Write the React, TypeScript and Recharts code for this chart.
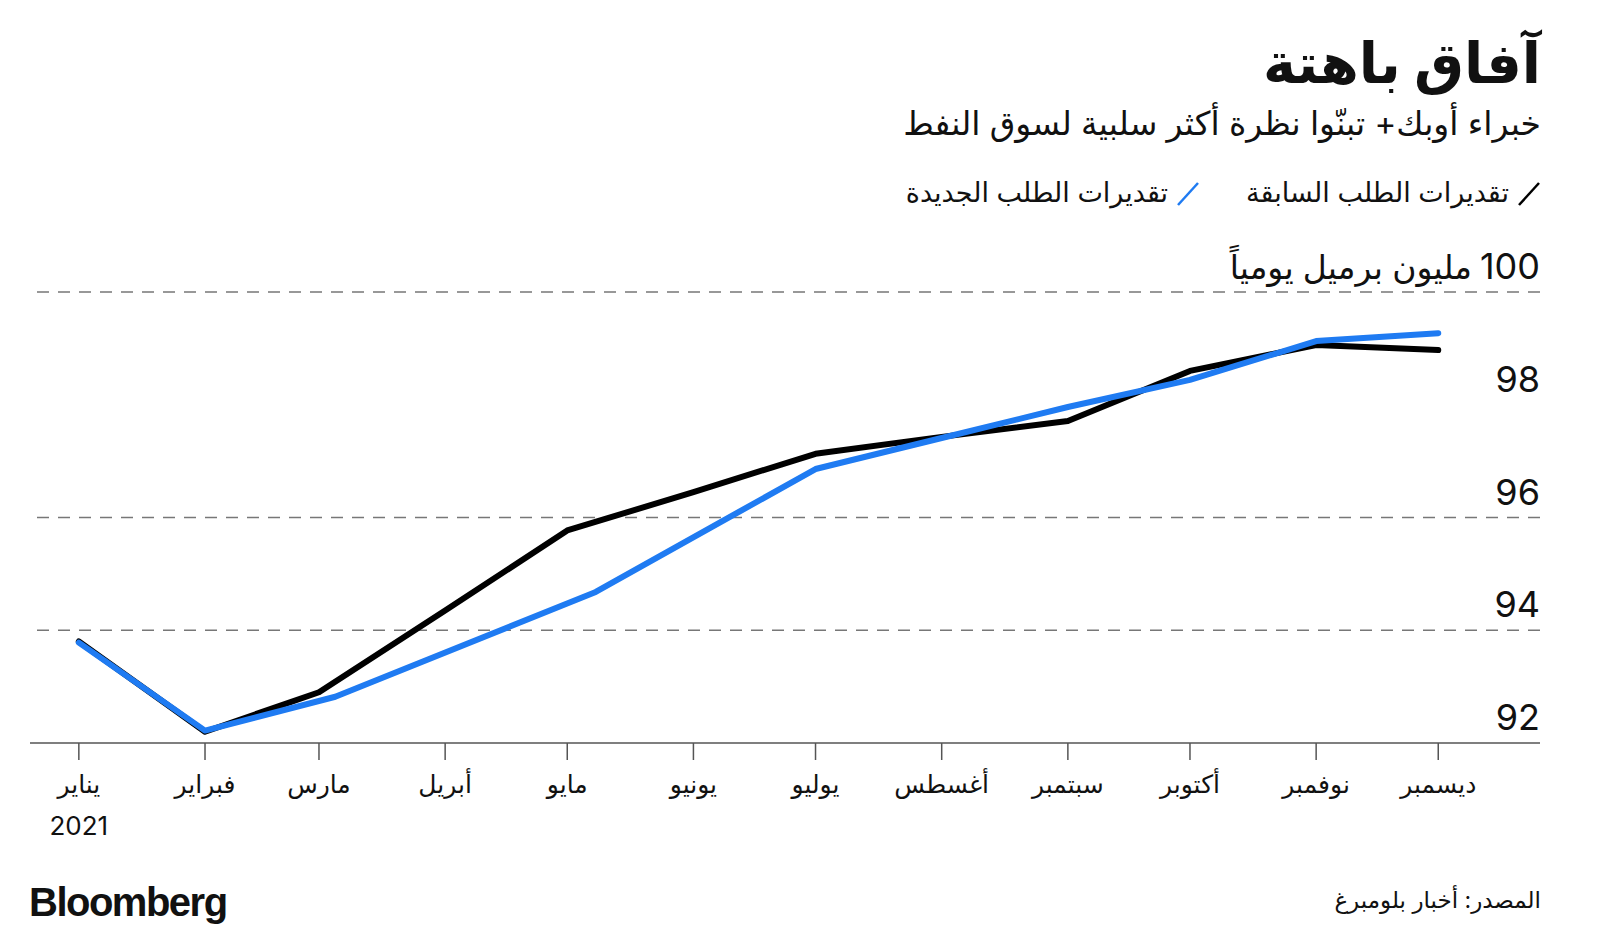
import { LineChart, Line, XAxis, YAxis, ReferenceLine } from "recharts";

// month labels and their day-of-year positions (2021)
const monthLabels = [
  "يناير",
  "فبراير",
  "مارس",
  "أبريل",
  "مايو",
  "يونيو",
  "يوليو",
  "أغسطس",
  "سبتمبر",
  "أكتوبر",
  "نوفمبر",
  "ديسمبر",
];
const monthDays = [0, 31, 59, 90, 120, 151, 181, 212, 243, 273, 304, 334];

// previous demand estimates (black), one per month
const prevValues = [
  93.8, 92.2, 92.9, 94.35, 95.77, 96.45, 97.13, 97.43, 97.71, 98.6, 99.06, 98.97,
];

// new demand estimates (blue)
const newDays = [0, 31, 63, 127, 181, 212, 243, 273, 304, 334];
const newValues = [93.78, 92.22, 92.82, 94.68, 96.86, 97.41, 97.96, 98.44, 99.13, 99.27];

const yTicks = [92, 94, 96, 98, 100];
const gridValues = [100, 96, 94];
const unitLabel = "مليون برميل يومياً";

const prevData = monthDays.map((d, i) => ({ day: d, value: prevValues[i] }));
const newData = newDays.map((d, i) => ({ day: d, value: newValues[i] }));

const FONT = "Inter, 'DejaVu Sans', sans-serif";
const BLUE = "#1f7bf2";

function MonthTick(props: any) {
  const { x, y, payload } = props;
  const idx = monthDays.indexOf(payload.value);
  return (
    <g>
      <text x={x} y={y + 31} textAnchor="middle" fontSize={25} fill="#111" fontFamily={FONT}>
        {monthLabels[idx]}
      </text>
      {idx === 0 && (
        <text x={x} y={y + 73} textAnchor="middle" fontSize={26} fill="#111" fontFamily={FONT}>
          2021
        </text>
      )}
    </g>
  );
}

function ValueTick(props: any) {
  const { x, y, payload } = props;
  return (
    <g>
      <text x={x} y={y - 13} textAnchor="end" fontSize={36} fill="#111" fontFamily={FONT}>
        {payload.value}
      </text>
      {payload.value === 100 && (
        <text x={x - 68} y={y - 13} textAnchor="end" fontSize={33} fill="#111" fontFamily={FONT}>
          {unitLabel}
        </text>
      )}
    </g>
  );
}

function Slash({ color }: { color: string }) {
  return (
    <svg width={24} height={28} style={{ display: "block" }}>
      <line x1={2} y1={26} x2={22} y2={4} stroke={color} strokeWidth={2.5} />
    </svg>
  );
}

export default function App() {
  return (
    <div
      style={{
        position: "relative",
        width: 1600,
        height: 949,
        margin: -8,
        background: "#fff",
        fontFamily: FONT,
        color: "#111",
        overflow: "hidden",
      }}
    >
      <div
        style={{
          position: "absolute",
          right: 59,
          top: 30,
          direction: "rtl",
          fontSize: 56,
          fontWeight: 700,
          lineHeight: 1.2,
        }}
      >
        آفاق باهتة
      </div>
      <div
        style={{
          position: "absolute",
          right: 59,
          top: 104,
          direction: "rtl",
          fontSize: 33,
          lineHeight: 1.2,
        }}
      >
        خبراء أوبك+ تبنّوا نظرة أكثر سلبية لسوق النفط
      </div>
      <div
        style={{
          position: "absolute",
          right: 59,
          top: 177,
          direction: "rtl",
          display: "flex",
          alignItems: "center",
          gap: 8,
          fontSize: 27,
          lineHeight: 1.2,
        }}
      >
        <Slash color="#000" />
        <span>تقديرات الطلب السابقة</span>
        <span style={{ width: 30 }} />
        <Slash color={BLUE} />
        <span>تقديرات الطلب الجديدة</span>
      </div>

      <div style={{ position: "absolute", left: 0, top: 0 }}>
        <LineChart
          width={1600}
          height={949}
          margin={{ top: 292, right: 0, bottom: 116, left: 30 }}
        >
          <XAxis
            type="number"
            dataKey="day"
            domain={[-12, 359]}
            ticks={monthDays}
            interval={0}
            height={90}
            axisLine={{ stroke: "#555", strokeWidth: 1.5 }}
            tickLine={{ stroke: "#555", strokeWidth: 1.5 }}
            tickSize={17}
            tick={<MonthTick />}
            allowDataOverflow
          />
          <YAxis
            type="number"
            orientation="right"
            domain={[92, 100]}
            ticks={yTicks}
            interval={0}
            width={60}
            axisLine={false}
            tickLine={false}
            tickSize={0}
            tickMargin={0}
            tick={<ValueTick />}
            allowDataOverflow
          />
          {gridValues.map((v) => (
            <ReferenceLine
              key={v}
              y={v}
              stroke="#777"
              strokeWidth={1.5}
              strokeDasharray="12 9"
            />
          ))}
          <Line
            data={prevData}
            dataKey="value"
            type="linear"
            stroke="#000"
            strokeWidth={6}
            strokeLinecap="round"
            strokeLinejoin="round"
            dot={false}
            activeDot={false}
            isAnimationActive={false}
          />
          <Line
            data={newData}
            dataKey="value"
            type="linear"
            stroke={BLUE}
            strokeWidth={6}
            strokeLinecap="round"
            strokeLinejoin="round"
            dot={false}
            activeDot={false}
            isAnimationActive={false}
          />
        </LineChart>
      </div>

      <div
        style={{
          position: "absolute",
          left: 29,
          top: 880,
          fontSize: 40,
          fontWeight: 700,
          letterSpacing: -1.5,
          fontFamily: "'Liberation Sans', Arial, sans-serif",
        }}
      >
        Bloomberg
      </div>
      <div
        style={{
          position: "absolute",
          right: 59,
          top: 887,
          direction: "rtl",
          fontSize: 23,
          lineHeight: 1.2,
        }}
      >
        المصدر: أخبار بلومبرغ
      </div>
    </div>
  );
}
